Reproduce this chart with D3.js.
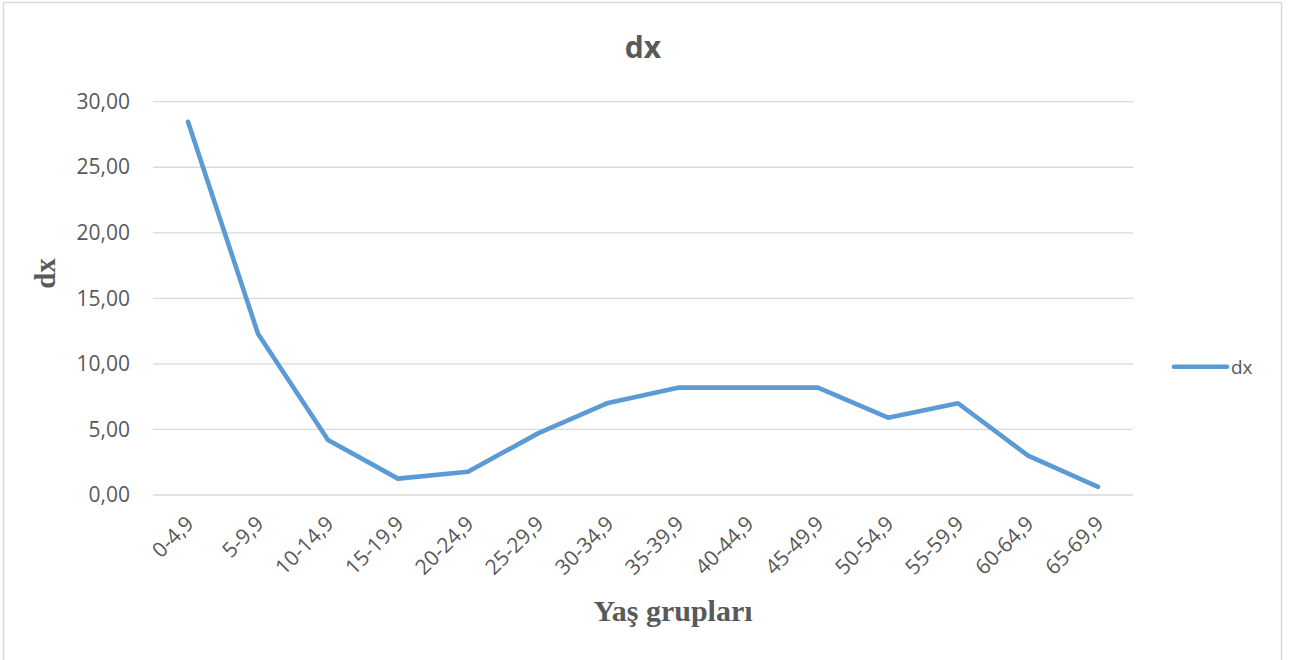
<!DOCTYPE html>
<html>
<head>
<meta charset="utf-8">
<script src="https://cdn.jsdelivr.net/npm/d3@7"></script>
<style>
  html, body { margin: 0; padding: 0; background: #fff; }
  svg { display: block; }
</style>
</head>
<body>
<svg id="chart" width="1292" height="660"></svg>
<script>
const categories = ["0-4,9","5-9,9","10-14,9","15-19,9","20-24,9","25-29,9","30-34,9","35-39,9","40-44,9","45-49,9","50-54,9","55-59,9","60-64,9","65-69,9"];
const dxValues = [28.47, 12.3, 4.2, 1.25, 1.78, 4.7, 7.02, 8.19, 8.19, 8.19, 5.9, 7.0, 3.0, 0.62];
const yTicks = [0, 5, 10, 15, 20, 25, 30];
const seriesName = "dx";
const chartTitle = "dx";
const xTitle = "Yaş grupları";
const yTitle = "dx";

const svg = d3.select("#chart");
const textColor = "#595959";
const gridColor = "#d9d9d9";
const lineColor = "#5b9bd5";
const sansFont = "'Open Sans', 'Noto Sans', sans-serif";
const serifFont = "'Liberation Serif', 'DejaVu Serif', serif";

const plot = { left: 153, right: 1133, top: 101.7, bottom: 495 };

// outer border
svg.append("rect")
  .attr("x", 3.5).attr("y", 2.5)
  .attr("width", 1278).attr("height", 700)
  .attr("fill", "#fff")
  .attr("stroke", gridColor).attr("stroke-width", 1.5);

const x = d3.scaleBand().domain(categories).range([plot.left, plot.right]).padding(0);
const y = d3.scaleLinear().domain([0, 30]).range([plot.bottom, plot.top]);

// gridlines
svg.append("g").selectAll("line").data(yTicks).join("line")
  .attr("x1", plot.left).attr("x2", plot.right)
  .attr("y1", d => y(d)).attr("y2", d => y(d))
  .attr("stroke", gridColor).attr("stroke-width", 1.3);

// y axis labels
const fmt = d => d3.format(".2f")(d).replace(".", ",");
const yAxis = d3.axisLeft(y).tickValues(yTicks).tickFormat(fmt).tickSize(0).tickPadding(23);
const yg = svg.append("g").attr("transform", `translate(${plot.left},0)`).call(yAxis);
yg.select(".domain").remove();
yg.selectAll("text")
  .attr("fill", textColor)
  .style("font-family", sansFont)
  .style("font-size", "21px");

// x axis labels (rotated)
const xg = svg.append("g");
xg.selectAll("text").data(categories).join("text")
  .attr("transform", d => `translate(${x(d) + x.bandwidth() / 2 + 7},${plot.bottom + 30}) rotate(-45)`)
  .attr("text-anchor", "end")
  .attr("fill", textColor)
  .style("font-family", sansFont)
  .style("font-size", "21px")
  .text(d => d);

// line
const line = d3.line()
  .x((d, i) => x(categories[i]) + x.bandwidth() / 2)
  .y(d => y(d));
svg.append("path")
  .datum(dxValues)
  .attr("d", line)
  .attr("fill", "none")
  .attr("stroke", lineColor)
  .attr("stroke-width", 4.6)
  .attr("stroke-linejoin", "round")
  .attr("stroke-linecap", "round");

// title
svg.append("text")
  .attr("x", 643).attr("y", 58)
  .attr("text-anchor", "middle")
  .attr("fill", textColor)
  .style("font-family", sansFont)
  .style("font-weight", "bold")
  .style("font-size", "30px")
  .text(chartTitle);

// x axis title
svg.append("text")
  .attr("x", 673).attr("y", 621)
  .attr("text-anchor", "middle")
  .attr("fill", textColor)
  .style("font-family", serifFont)
  .style("font-weight", "bold")
  .style("font-size", "30px")
  .text(xTitle);

// y axis title
svg.append("text")
  .attr("transform", "translate(55,273.5) rotate(-90)")
  .attr("text-anchor", "middle")
  .attr("fill", textColor)
  .style("font-family", serifFont)
  .style("font-weight", "bold")
  .style("font-size", "29px")
  .text(yTitle);

// legend
const lg = svg.append("g");
lg.append("line")
  .attr("x1", 1174).attr("x2", 1227)
  .attr("y1", 366.7).attr("y2", 366.7)
  .attr("stroke", lineColor).attr("stroke-width", 4.6)
  .attr("stroke-linecap", "round");
lg.append("text")
  .attr("x", 1231).attr("y", 374)
  .attr("fill", textColor)
  .style("font-family", sansFont)
  .style("font-size", "19px")
  .text(seriesName);
</script>
</body>
</html>
